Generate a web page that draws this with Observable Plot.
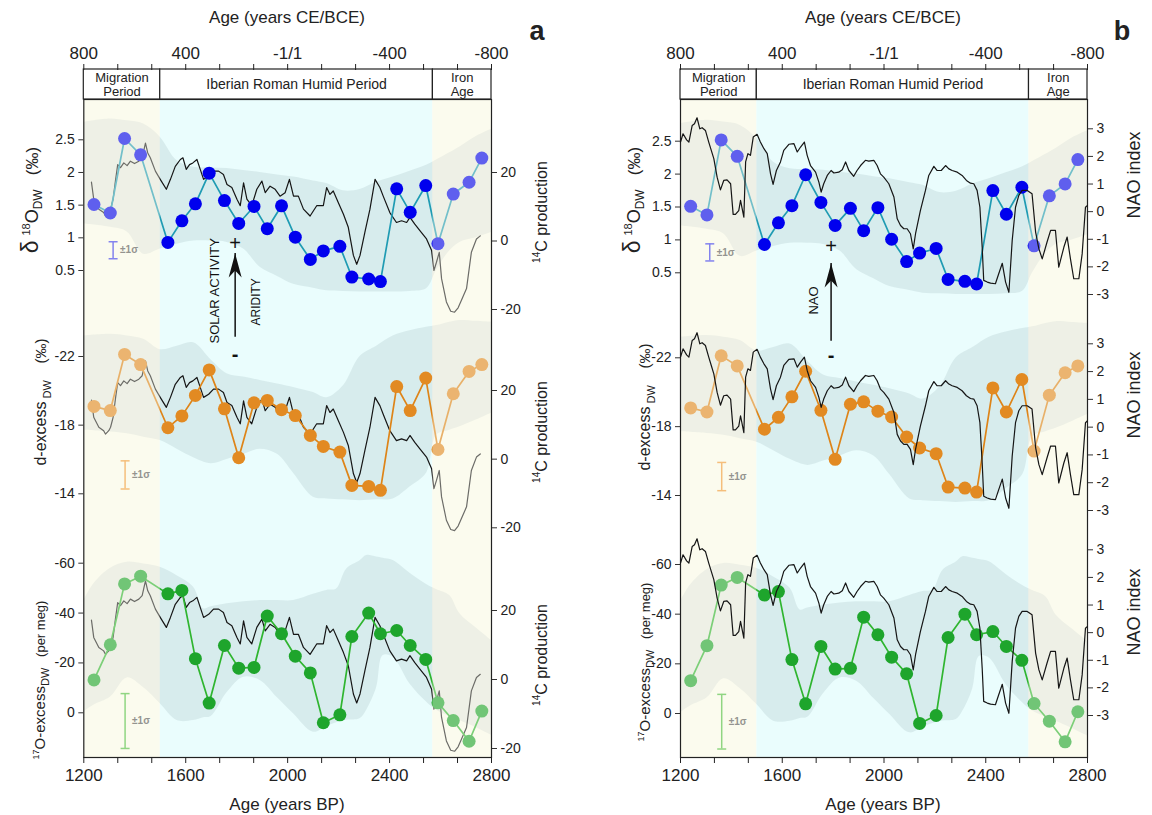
<!DOCTYPE html>
<html><head><meta charset="utf-8">
<script src="https://cdn.jsdelivr.net/npm/d3@7"></script>
<script src="https://cdn.jsdelivr.net/npm/@observablehq/plot@0.6"></script>
<style>
body{margin:0;background:#fff;}
#root{position:relative;width:1152px;height:815px;overflow:hidden;background:#fff;}
</style></head><body><div id="root"></div>
<script>
// ---------------- DATA ----------------
const sampleAge = [1240,1304,1360,1423,1530,1585,1638,1692,1752,1808,1868,1920,1976,2030,2089,2140,2205,2252,2318,2364,2428,2481,2542,2590,2650,2712,2762];
const d18O = [1.51,1.38,2.52,2.27,0.93,1.26,1.52,1.99,1.57,1.22,1.48,1.14,1.49,1.01,0.67,0.80,0.87,0.40,0.37,0.33,1.75,1.39,1.80,0.91,1.67,1.85,2.22];
const dExcess = [-19.09,-18.85,-22.12,-21.53,-17.85,-18.54,-19.73,-21.22,-18.95,-16.10,-19.30,-19.44,-18.90,-18.56,-17.40,-16.76,-16.43,-14.49,-14.43,-14.20,-20.25,-18.85,-20.74,-16.58,-19.83,-21.13,-21.53];
const o17Excess = [-13.2,-27.3,-51.7,-54.8,-47.7,-49.1,-21.7,-3.9,-27.0,-17.9,-18.2,-38.8,-31.7,-22.7,-16.0,4.0,0.8,-30.6,-40.0,-31.7,-33.0,-27.0,-21.4,-4.0,3.1,11.4,-0.7];

const c14Age = [1230,1239,1259,1278,1285,1298,1305,1315,1324,1333,1344,1357,1370,1383,1399,1416,1429,1442,1451,1461,1481,1500,1524,1540,1559,1579,1589,1602,1615,1628,1644,1657,1670,1690,1709,1729,1748,1762,1781,1801,1814,1827,1840,1859,1879,1899,1912,1931,1951,1970,1990,2007,2023,2042,2062,2088,2114,2140,2153,2166,2179,2199,2219,2238,2258,2271,2284,2303,2323,2343,2362,2375,2401,2427,2447,2467,2480,2499,2519,2545,2565,2574,2584,2595,2604,2623,2640,2655,2669,2682,2702,2721,2741,2756];
const c14Prod = [17.2,12.2,9.3,8.3,7.3,8.3,9.3,12.2,17.5,22.3,21.4,22.8,22.0,23.3,22.6,23.3,24.3,28.6,25.7,24.3,20.4,18.0,15.1,18.0,21.8,23.8,24.3,20.9,22.3,22.8,23.8,20.9,18.0,18.9,20.4,20.4,19.4,16.5,15.6,12.2,10.3,17.0,12.2,10.3,15.1,17.5,14.1,16.0,15.1,13.1,14.1,18.0,13.1,13.1,9.3,7.3,10.3,10.3,15.6,13.6,14.6,11.2,7.8,4.0,-4.2,-6.8,-4.2,2.5,9.3,18.0,15.6,13.1,8.3,5.4,5.9,5.4,6.9,4.9,3.0,0.6,-2.8,-8.6,-6.2,-3.3,-11.0,-17.8,-20.5,-20.8,-19.5,-17.3,-13.9,-3.3,0.6,1.5];

const naoAge = [1200,1210,1224,1233,1246,1255,1265,1276,1285,1298,1311,1321,1331,1344,1357,1370,1383,1397,1407,1416,1429,1436,1449,1456,1465,1475,1486,1501,1514,1528,1541,1554,1564,1577,1593,1606,1626,1646,1659,1672,1687,1698,1711,1731,1744,1753,1763,1777,1792,1803,1822,1836,1849,1862,1881,1894,1908,1927,1940,1960,1973,1986,1999,2019,2039,2052,2065,2078,2091,2104,2115,2124,2143,2163,2176,2196,2209,2225,2242,2255,2268,2288,2307,2324,2340,2353,2366,2377,2386,2392,2406,2419,2438,2451,2465,2478,2491,2504,2517,2530,2543,2563,2582,2596,2609,2622,2641,2655,2674,2687,2707,2720,2733,2746,2766,2779,2792,2799];
const naoIndex = [2.52,2.82,2.60,2.52,3.12,3.18,3.40,3.00,3.04,2.94,2.52,2.22,1.92,1.25,0.79,1.13,1.15,1.01,-0.10,-0.10,0.04,0.41,-0.20,1.80,2.10,2.04,2.70,2.80,2.52,2.28,2.10,1.37,0.99,1.49,1.80,2.22,2.44,2.46,2.16,2.34,2.52,2.04,1.67,1.43,1.07,0.71,1.01,1.31,1.49,1.40,1.43,1.52,1.80,1.49,1.28,1.49,1.67,1.86,1.83,1.86,1.67,1.37,1.25,1.01,0.53,-0.26,-0.50,-0.62,-0.62,-0.80,-1.35,-0.80,0.04,0.77,1.31,1.64,1.49,1.49,1.67,1.55,1.49,1.43,1.31,1.13,1.03,1.01,0.77,0.16,-1.29,-2.49,-2.55,-2.59,-2.61,-2.25,-1.87,-2.55,-2.92,-1.04,0.16,0.59,0.77,0.77,0.65,-0.74,-1.35,-1.71,-1.10,-0.68,-0.68,-2.01,-1.29,-0.92,-1.71,-2.43,-2.43,-1.53,0.16,0.22];

// uncertainty envelopes
const bandAge = [1200,1305,1370,1435,1500,1566,1631,1700,1762,1827,1892,1960,2023,2101,2153,2219,2284,2349,2414,2480,2545,2584,2636,2676,2740,2800];
const d18OBandHi = [2.77,2.82,2.79,2.74,2.54,2.18,2.08,2.07,2.06,2.03,2.00,1.96,1.93,1.87,1.83,1.72,1.74,1.85,1.93,2.02,2.11,2.19,2.30,2.39,2.55,2.66];
const d18OBandLo = [1.21,1.16,1.09,0.75,0.83,0.90,0.95,0.95,0.93,0.83,0.55,0.41,0.29,0.23,0.19,0.18,0.17,0.17,0.17,0.18,0.22,0.50,0.80,0.93,1.00,1.08];
const dExcBandHi = [-23.2,-23.3,-23.2,-23.0,-22.4,-22.6,-22.8,-21.8,-21.0,-20.8,-20.6,-20.4,-20.2,-19.9,-19.6,-20.3,-22.0,-22.6,-23.2,-23.5,-23.7,-23.8,-24.0,-24.1,-24.05,-24.0];
const dExcBandLo = [-17.7,-17.6,-17.5,-17.3,-17.1,-16.6,-16.1,-15.75,-16.0,-16.3,-16.6,-16.3,-15.2,-13.8,-13.7,-13.65,-13.6,-13.65,-13.7,-14.4,-15.2,-17.4,-17.7,-17.9,-18.3,-18.7];
const o17BandAge = [1200,1239,1305,1370,1435,1500,1566,1631,1670,1700,1762,1827,1892,1960,2023,2101,2153,2192,2232,2284,2310,2349,2375,2414,2480,2545,2584,2636,2676,2740,2800];
const o17BandHi = [-45,-51.7,-58,-60.4,-59.7,-58.4,-55,-50.4,-41.7,-42.5,-43.7,-44.5,-45,-45,-45,-47.5,-49.1,-49.7,-57.7,-61,-63.1,-62.5,-62,-61.1,-56,-51.5,-49.5,-47,-39.7,-34,-29];
const o17BandLo = [-0.3,-3,-6.3,-14,-10,-3.6,3.1,3.1,2,1.5,-8,-14.3,-13,-6,0.4,7.8,5.5,4,3,2.4,-1,-10,-23,-22.3,-11.6,-4.3,-1,1.5,3.1,6,9];

// ±1σ bars
const sigmaAge = [1315, 1362, 1362];
const sigmaCenter = [0.81, -15.1, 3.3];
const sigmaHalf = [0.13, 0.82, 11];

// periods
const periodStart = [1200, 1500, 2570];
const periodEnd = [1500, 2570, 2800];
const periodName = ["Migration\nPeriod", "Iberian Roman Humid Period", "Iron\nAge"];

// axes
const bpTicks = [1200, 1600, 2000, 2400, 2800];
const ceLabels = ["800", "400", "-1/1", "-400", "-800"];
const d18OTicks = [0.5, 1, 1.5, 2, 2.5];
const dExcTicks = [-22, -18, -14];
const o17Ticks = [-60, -40, -20, 0];
const c14Ticks = [-20, 0, 20];
const naoTicks = [-3, -2, -1, 0, 1, 2, 3];

// ---------------- BUILD ----------------
const W = 1152, H = 815;
const FONT = "'Liberation Sans', Arial, Helvetica, sans-serif";
const STYLE = `position:absolute;left:0;top:0;background:transparent;overflow:visible;font-family:${FONT};color:#222;`;
const root = document.getElementById("root");

const samples = sampleAge.map((a, i) => ({age: a, d18: d18O[i], dex: dExcess[i], o17: o17Excess[i]}));
const c14 = c14Age.map((a, i) => ({age: a, v: c14Prod[i]}));
const nao = naoAge.map((a, i) => ({age: a, v: naoIndex[i]}));
const periods = periodStart.map((s, i) => ({start: s, end: periodEnd[i], name: periodName[i], roman: i === 1}));
const band1 = bandAge.map((a, i) => ({age: a, lo: d18OBandLo[i], hi: d18OBandHi[i]}));
const band2 = bandAge.map((a, i) => ({age: a, lo: dExcBandLo[i], hi: dExcBandHi[i]}));
const band3 = o17BandAge.map((a, i) => ({age: a, lo: o17BandLo[i], hi: o17BandHi[i]}));
const minorTicks = d3.range(13).map(i => 1200 + (i * 400) / 3);
const ceMap = new Map(bpTicks.map((t, i) => [t, ceLabels[i]]));
const bpFmt = d => bpTicks.includes(d) ? String(d) : "";
const ceFmt = d => ceMap.get(d) ?? "";

const capSymbol = {draw(ctx) { ctx.moveTo(-4.5, 0); ctx.lineTo(4.5, 0); }};
const arrowHead = {draw(ctx) { ctx.moveTo(0, 0); ctx.lineTo(6.5, 24); ctx.lineTo(0, 17); ctx.lineTo(-6.5, 24); ctx.closePath(); }};

const panels = [
  {x0: 83.3, x1: 491, ranges: [[270, 139.3], [356, 493.3], [562.7, 712.3]],
   rRanges: [[309, 172], [527.3, 390], [748, 610]], black: c14, rDomain: [-20, 20], rTicks: c14Ticks, blackOnTop: false,
   ann: [{age: 1794, tip: 0.76, tail: -0.52, plus: 0.91, minus: -0.78}],
   annText: [{age: 1716, y: 0.19, t: "SOLAR ACTIVITY", s: 13}, {age: 1877, y: 0.02, t: "ARIDITY", s: 12}]},
  {x0: 680, x1: 1087, ranges: [[272.3, 140.7], [357.3, 495], [564, 713]],
   rRanges: [[294, 128.3], [510, 343.3], [715, 549.3]], black: nao, rDomain: [-3, 3], rTicks: naoTicks, blackOnTop: true,
   ann: [{age: 1792, tip: 0.64, tail: -0.54, plus: 0.90, minus: -0.76}],
   annText: [{age: 1723, y: 0.08, t: "NAO", s: 13}]}
];

const seriesDefs = [
  {key: "d18", domain: [0.5, 2.5], ticks: d18OTicks, dot: "#0000ee", line: "#1f9bb3", err: "#3a3aee", band: band1},
  {key: "dex", domain: [-22, -14], ticks: dExcTicks, dot: "#e28a22", line: "#de8418", err: "#f29a35", band: band2},
  {key: "o17", domain: [-60, 0], ticks: o17Ticks, dot: "#1ea52c", line: "#2fb52f", err: "#4fbf3f", band: band3}
];

function layer(P, opts) {
  const svg = Plot.plot(Object.assign({
    width: W, height: H,
    marginLeft: P.x0, marginRight: W - P.x1, marginTop: 99, marginBottom: H - 757,
    style: STYLE,
    x: {domain: [1200, 2800], axis: null},
    color: {type: "identity"}
  }, opts));
  root.appendChild(svg);
}

function blackLayer(P, k) {
  layer(P, {y: {domain: P.rDomain, range: P.rRanges[k]}, marks: [
    Plot.lineY(P.black, {x: "age", y: "v", stroke: "#151515", strokeWidth: 1.2}),
    Plot.axisY({anchor: "right", ticks: P.rTicks, tickFormat: d => String(d), tickSize: 5, tickPadding: 4, fontSize: 14, label: null, stroke: "#333"})
  ]});
}

for (const P of panels) {
  // background periods
  layer(P, {marks: [
    Plot.rect(periods, {x1: "start", x2: "end", fill: d => d.roman ? "#eafdfd" : "#fcfcee"})
  ]});
  seriesDefs.forEach((S, k) => {
    // envelope
    layer(P, {y: {domain: S.domain, range: P.ranges[k], axis: null}, marks: [
      Plot.areaY(S.band, {x: "age", y1: "lo", y2: "hi", fill: "#5a7f85", fillOpacity: 0.13, curve: "catmull-rom"})
    ]});
    if (!P.blackOnTop) blackLayer(P, k);
    // coloured series with left axis
    const sig = [{age: sigmaAge[k], lo: sigmaCenter[k] - sigmaHalf[k], hi: sigmaCenter[k] + sigmaHalf[k], c: sigmaCenter[k]}];
    const marks = [
      Plot.lineY(samples, {x: "age", y: S.key, stroke: S.line, strokeWidth: 1.7}),
      Plot.dot(samples, {x: "age", y: S.key, r: 6.5, fill: S.dot}),
      Plot.ruleX(sig, {x: "age", y1: "lo", y2: "hi", stroke: S.err, strokeWidth: 1.5}),
      Plot.dot(sig, {x: "age", y: "lo", symbol: capSymbol, stroke: S.err, strokeWidth: 1.5, r: 4}),
      Plot.dot(sig, {x: "age", y: "hi", symbol: capSymbol, stroke: S.err, strokeWidth: 1.5, r: 4}),
      Plot.text(sig, {x: "age", y: "c", text: () => "±1σ", dx: 7, textAnchor: "start", fontSize: 10, fontWeight: "bold", fill: "#555"}),
      Plot.axisY({anchor: "left", ticks: S.ticks, tickFormat: d => String(d), tickSize: 5, tickPadding: 4, fontSize: 14, label: null, stroke: "#333"})
    ];
    if (k === 0) {
      marks.push(
        Plot.ruleX(P.ann, {x: "age", y1: "tail", y2: "tip", stroke: "#111", strokeWidth: 1.5}),
        Plot.dot(P.ann, {x: "age", y: "tip", symbol: arrowHead, fill: "#111", r: 5}),
        Plot.text(P.ann, {x: "age", y: "plus", text: () => "+", fontSize: 20, fill: "#111"}),
        Plot.text(P.ann, {x: "age", y: "minus", text: () => "-", fontSize: 20, fontWeight: "bold", fill: "#111"}),
        Plot.text(P.annText, {x: "age", y: "y", text: "t", rotate: -90, fontSize: d => d.s, fill: "#111"})
      );
    }
    layer(P, {y: {domain: S.domain, range: P.ranges[k]}, marks});
  });
  // yellow overlay, frame and bottom axis
  layer(P, {marks: [
    Plot.rect(periods.filter(d => !d.roman), {x1: "start", x2: "end", fill: "#fbfbee", fillOpacity: 0.38}),
    Plot.frame({stroke: "#222", strokeWidth: 1.2}),
    Plot.axisX({anchor: "bottom", ticks: minorTicks, tickFormat: bpFmt, tickSize: 6, tickPadding: 5, fontSize: 17, label: null, stroke: "#222"})
  ]});
  if (P.blackOnTop) [0, 1, 2].forEach(k => blackLayer(P, k));
  // top period box and CE/BCE axis
  layer(P, {marginTop: 69, marginBottom: H - 99, marks: [
    Plot.rect(periods, {x1: "start", x2: "end", fill: "white", stroke: "#222", strokeWidth: 1.2}),
    Plot.text(periods, {x: d => (d.start + d.end) / 2, text: "name", fontSize: d => d.roman ? 14 : 13, lineHeight: 1.1, fill: "#222"}),
    Plot.axisX({anchor: "top", ticks: minorTicks, tickFormat: ceFmt, tickSize: 6, tickPadding: 5, fontSize: 17, label: null, stroke: "#222"})
  ]});
}

// ---------------- TEXT LABELS ----------------
const lab = d3.select(root).append("svg").attr("width", W).attr("height", H)
  .style("position", "absolute").style("left", 0).style("top", 0)
  .style("font-family", FONT).attr("fill", "#222");
function txt(x, y, s, size, opts = {}) {
  lab.append("text").attr("x", x).attr("y", y).attr("font-size", size)
    .attr("text-anchor", opts.anchor || "middle").attr("font-weight", opts.weight || null).text(s);
}
function rtext(x, y, parts, size) {
  const t = lab.append("text").attr("transform", `translate(${x},${y}) rotate(-90)`)
    .attr("text-anchor", "middle").attr("font-size", size);
  parts.forEach(p => t.append("tspan").attr("font-size", p.s || size).attr("dy", p.dy || 0).text(p.t));
}
const nb = "\u00a0";
const lblD18 = [{t: "δ", s: 23}, {t: nb}, {t: "18", s: 11, dy: -8}, {t: "O", s: 18, dy: 8}, {t: "DW", s: 12, dy: 4}, {t: nb + nb + nb + "(‰)", s: 17, dy: -4}];
const lblDex = [{t: "d-excess", s: 16}, {t: nb + "DW", s: 11, dy: 5}, {t: nb + nb + nb + nb + "(‰)", s: 15, dy: -5}];
const lblO17 = [{t: "17", s: 9, dy: -6}, {t: "O-excess", s: 15, dy: 6}, {t: "DW", s: 11, dy: 4}, {t: nb + nb + nb + "(per meg)", s: 13, dy: -4}];
const lblC14 = [{t: "14", s: 10, dy: -7}, {t: "C production", s: 16, dy: 7}];

// panel a
txt(287, 23, "Age (years CE/BCE)", 17);
txt(537, 40, "a", 27, {weight: "bold"});
txt(287, 810, "Age (years BP)", 17);
rtext(38, 200, lblD18, 17);
rtext(46, 402, lblDex, 16);
rtext(45, 680, lblO17, 15);
[212, 432, 655].forEach(y => rtext(547, y, lblC14, 16));
// panel b
txt(883, 23, "Age (years CE/BCE)", 17);
txt(1122, 40, "b", 27, {weight: "bold"});
txt(883, 810, "Age (years BP)", 17);
rtext(640, 200, lblD18, 17);
rtext(650, 407, lblDex, 16);
rtext(650, 662, lblO17, 15);
[175, 395, 612].forEach(y => rtext(1140, y, [{t: "NAO index", s: 18}], 18));
</script></body></html>
